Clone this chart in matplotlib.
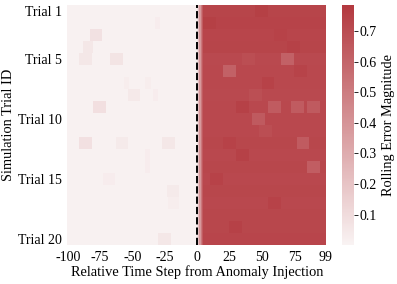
"""
Heatmap of rolling error magnitude per simulation trial, aligned on the
anomaly injection step (time 0).
"""

import matplotlib
matplotlib.use("Agg")
import matplotlib.pyplot as plt
import numpy as np
from matplotlib.colors import LinearSegmentedColormap

# -- Data ---------------------------------------------------------------------
n_trials = 20
time_steps = list(range(-100, 100))          # relative time step
ytick_trials = [1, 5, 10, 15, 20]
xtick_steps = [-100, -75, -50, -25, 0, 25, 50, 75, 99]

pre_level = 0.012                            # background before injection

# steady post-injection error level of each trial
post_level = [0.735, 0.740, 0.730, 0.735, 0.715, 0.720, 0.720, 0.715,
              0.720, 0.720, 0.720, 0.725, 0.720, 0.725, 0.720, 0.725,
              0.720, 0.725, 0.725, 0.730]

# rise of the rolling error right after injection (steps 0..4)
ramp = [0.08, 0.22, 0.38, 0.52, 0.64]

# local bumps before injection: (trial index, first step, width, value)
pre_spots = [
    (1, -32, 4, 0.030),
    (2, -82, 9, 0.075),
    (3, -88, 8, 0.055),
    (4, -91, 10, 0.055),
    (4, -67, 10, 0.065),
    (6, -56, 4, 0.025),
    (6, -40, 5, 0.025),
    (7, -53, 9, 0.045),
    (7, -34, 4, 0.030),
    (8, -80, 10, 0.085),
    (11, -91, 10, 0.080),
    (11, -62, 9, 0.040),
    (11, -27, 10, 0.055),
    (12, -40, 4, 0.030),
    (13, -40, 4, 0.030),
    (14, -72, 9, 0.030),
    (15, -23, 9, 0.040),
    (16, -22, 8, 0.025),
    (19, -30, 10, 0.055),
]

# darker / lighter patches after injection: (trial index, first step, width, value)
post_spots = [
    (0, 45, 10, 0.755),
    (1, 5, 10, 0.755),
    (2, 60, 10, 0.745),
    (3, 70, 10, 0.750),
    (4, 65, 10, 0.615),
    (4, 35, 10, 0.695),
    (5, 20, 10, 0.615),
    (5, 75, 10, 0.740),
    (6, 50, 10, 0.745),
    (7, 40, 10, 0.690),
    (8, 55, 10, 0.640),
    (8, 73, 10, 0.640),
    (8, 85, 10, 0.645),
    (8, 30, 10, 0.750),
    (9, 43, 10, 0.645),
    (10, 48, 10, 0.695),
    (11, 77, 10, 0.640),
    (11, 20, 10, 0.745),
    (12, 30, 10, 0.750),
    (13, 85, 10, 0.630),
    (14, 10, 10, 0.745),
    (16, 55, 10, 0.745),
    (18, 25, 10, 0.750),
]

# -- Build matrix -------------------------------------------------------------
steps = np.array(time_steps)
values = np.full((n_trials, len(time_steps)), pre_level)
for i in range(n_trials):
    values[i, steps >= 0] = post_level[i]
    for k, v in enumerate(ramp):
        values[i, steps == k] = v
for row, start, width, v in pre_spots + post_spots:
    sel = (steps >= start) & (steps < start + width)
    if start >= 0:
        sel &= steps >= len(ramp)
    values[row, sel] = v

# -- Plot ---------------------------------------------------------------------
plt.rcParams["font.family"] = ["Liberation Serif", "DejaVu Serif"]
plt.rcParams["font.size"] = 10

cmap = LinearSegmentedColormap.from_list("reds_light", ["#f9f3f3", "#b3393f"])

fig = plt.figure(figsize=(3.97, 2.84), dpi=100)
ax = fig.add_axes([0.169, 0.137, 0.653, 0.845])
cax = fig.add_axes([0.862, 0.137, 0.030, 0.845])

mesh = ax.pcolormesh(np.arange(len(time_steps) + 1), np.arange(n_trials + 1),
                     values, cmap=cmap, vmin=0.0, vmax=0.785,
                     antialiased=True, linewidth=0)
ax.set_xlim(0, len(time_steps))
ax.set_ylim(n_trials, 0)

# injection marker
ax.axvline(time_steps.index(0), color="black", linestyle="--", linewidth=1.4)

ax.set_xticks([time_steps.index(s) + 0.5 for s in xtick_steps])
ax.set_xticklabels([str(s) for s in xtick_steps])
ax.set_yticks([t - 0.5 for t in ytick_trials])
ax.set_yticklabels([f"Trial {t}" for t in ytick_trials])
ax.tick_params(length=0, pad=4)
for sp in ax.spines.values():
    sp.set_visible(False)

ax.set_xlabel("Relative Time Step from Anomaly Injection", fontsize=10.4, labelpad=1)
ax.set_ylabel("Simulation Trial ID", fontsize=10.4, labelpad=2)

cb = fig.colorbar(mesh, cax=cax)
cb.set_ticks([0.1, 0.2, 0.3, 0.4, 0.5, 0.6, 0.7])
cb.set_label("Rolling Error Magnitude", fontsize=10.4)
cb.outline.set_visible(False)
cb.ax.tick_params(length=3, width=0.6, pad=1)

fig.savefig("out.png", dpi=100)
